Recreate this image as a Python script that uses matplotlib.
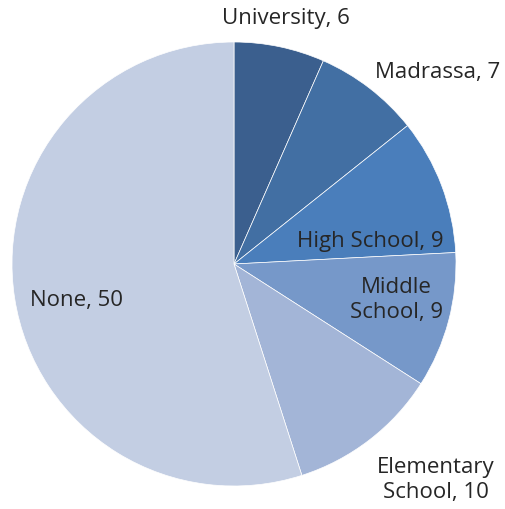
import numpy as np
import matplotlib.pyplot as plt

labels = ['University', 'Madrassa', 'High School', 'Middle\nSchool', 'Elementary\nSchool', 'None']
values = [6, 7, 9, 9, 10, 50]
colors = ['#3b5f8e', '#426fa3', '#4a7ebb', '#7698c9', '#a3b5d7', '#c3cee3']

# label placement (angle in degrees, distance as fraction of radius)
label_angle = [78, 43.3, 9.2, -12.5, -46.9, -167]
label_dist = [1.13, 1.26, 0.62, 0.75, 1.33, 0.73]

plt.rcParams['font.family'] = ['Open Sans', 'DejaVu Sans']

fig = plt.figure(figsize=(5.05, 5.09), dpi=100)
ax = fig.add_axes([0, 0, 1, 1])

cx, cy, r = 234, 245, 222
ax.pie(values, colors=colors, startangle=90, counterclock=False,
       center=(cx, cy), radius=r,
       wedgeprops=dict(edgecolor='white', linewidth=0.5))

for lab, v, a, d in zip(labels, values, label_angle, label_dist):
    t = np.deg2rad(a)
    ax.text(cx + d * r * np.cos(t), cy + d * r * np.sin(t), f'{lab}, {v}',
            ha='center', va='center', fontsize=16, color='#262626',
            linespacing=1.25)

ax.set_xlim(0, 505)
ax.set_ylim(0, 509)
ax.set_aspect('equal')
ax.axis('off')

fig.savefig('out.png', dpi=100)
